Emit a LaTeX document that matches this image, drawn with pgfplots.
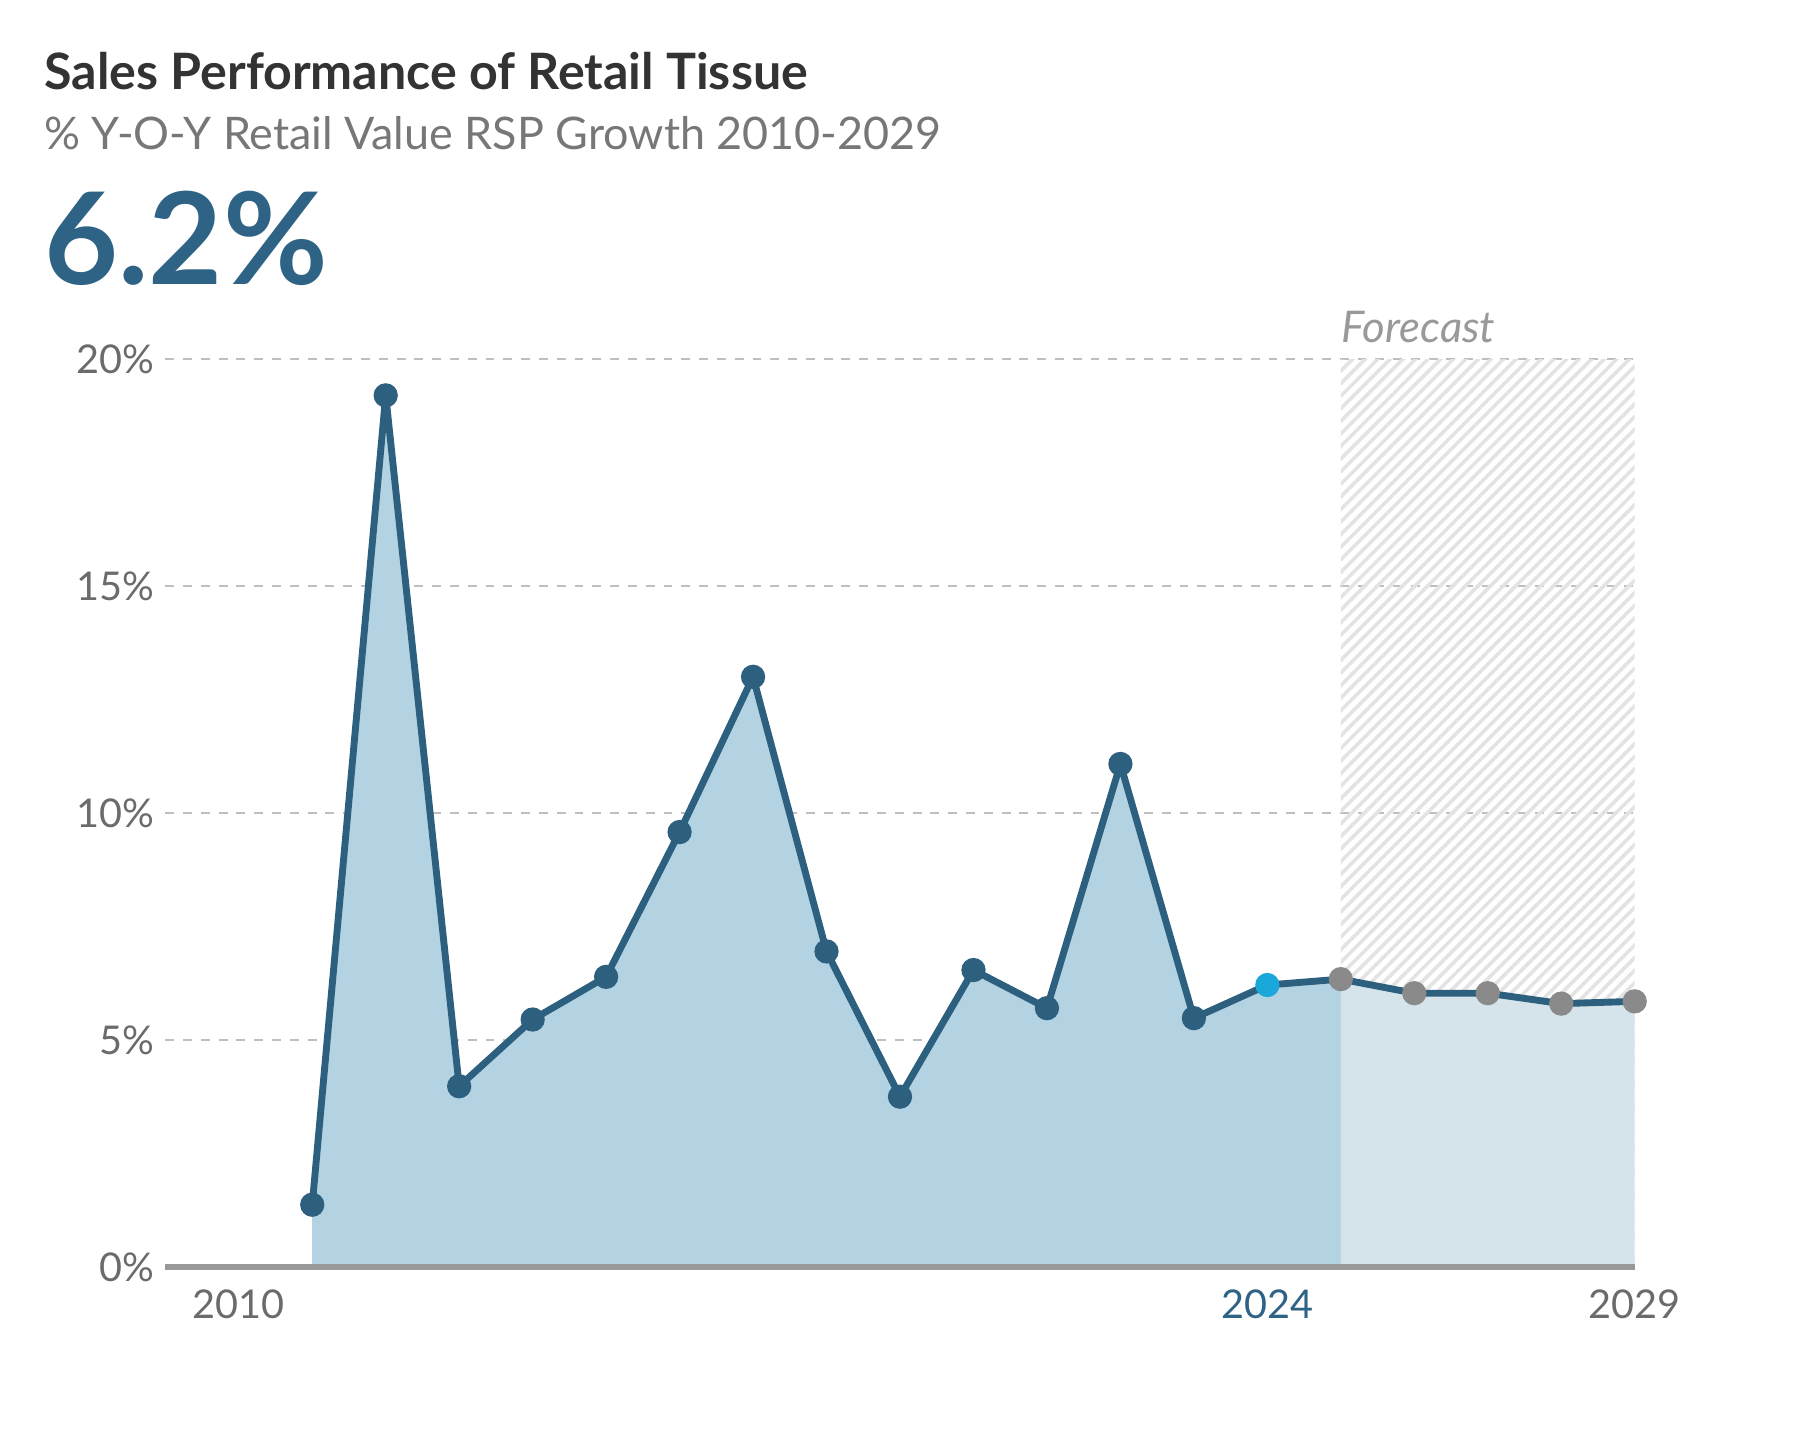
\documentclass[border=0pt]{standalone}
\usepackage{pgfplots}
\pgfplotsset{compat=1.18}
\usepackage{fontspec}
\setmainfont{Lato}
\usetikzlibrary{patterns.meta}
\definecolor{dline}{HTML}{2D5F7E}
\definecolor{bignum}{HTML}{2E6385}
\definecolor{fillA}{HTML}{B3D3E3}
\definecolor{fillB}{HTML}{D5E4EB}
\definecolor{gmark}{HTML}{8A8A8A}
\definecolor{cmark}{HTML}{1AA7D9}
\definecolor{tickg}{HTML}{6B6B6B}
\definecolor{titleg}{HTML}{333333}
\definecolor{subg}{HTML}{777777}
\begin{document}
\begin{tikzpicture}
\begin{axis}[
  scale only axis,
  width=12.77cm, height=7.89cm,
  xmin=2009, xmax=2029, ymin=0, ymax=20,
  clip=false,
  axis line style={draw=none},
  major tick length=0pt,
  ytick={0,5,10,15,20},
  yticklabels={0\%,5\%,10\%,15\%,20\%},
  xtick={2010,2024,2029},
  xticklabels={2010,\textcolor{bignum}{2024},2029},
  ymajorgrids,
  grid style={draw=black!25, dash pattern=on 2.2pt off 2.2pt, line width=0.6pt},
  tick label style={font=\fontsize{9.8}{11}\selectfont, text=tickg},
  yticklabel style={xshift=0.8pt},
  xticklabel style={yshift=-2pt},
  /pgf/number format/assume math mode=true,
]
% forecast hatch
\fill[pattern={Lines[angle=45,distance=2.2pt,line width=0.9pt]}, pattern color=black!11]
  (axis cs:2025,0) rectangle (axis cs:2029,20);
% fills
\addplot[fill=fillA, draw=none] coordinates {
(2011,1.37) (2012,19.2) (2013,3.98) (2014,5.45) (2015,6.39) (2016,9.58) (2017,13.0)
(2018,6.95) (2019,3.75) (2020,6.54) (2021,5.70) (2022,11.08) (2023,5.48) (2024,6.21) (2025,6.34)
} \closedcycle;
\addplot[fill=fillB, draw=none] coordinates {
(2025,6.34) (2026,6.03) (2027,6.03) (2028,5.80) (2029,5.85)
} \closedcycle;
% zero line
\draw[black!40, line width=1.3pt] (axis cs:2009,0) -- (axis cs:2029,0);
% line
\addplot[dline, line width=1.7pt, mark=none] coordinates {
(2011,1.37) (2012,19.2) (2013,3.98) (2014,5.45) (2015,6.39) (2016,9.58) (2017,13.0)
(2018,6.95) (2019,3.75) (2020,6.54) (2021,5.70) (2022,11.08) (2023,5.48) (2024,6.21)
(2025,6.34) (2026,6.03) (2027,6.03) (2028,5.80) (2029,5.85)
};
\addplot[only marks, mark=*, mark size=2.8pt, mark options={fill=dline, draw=dline}] coordinates {
(2011,1.37) (2012,19.2) (2013,3.98) (2014,5.45) (2015,6.39) (2016,9.58) (2017,13.0)
(2018,6.95) (2019,3.75) (2020,6.54) (2021,5.70) (2022,11.08) (2023,5.48)
};
\addplot[only marks, mark=*, mark size=2.8pt, mark options={fill=cmark, draw=cmark}] coordinates {
(2024,6.21)
};
\addplot[only marks, mark=*, mark size=2.8pt, mark options={fill=gmark, draw=gmark}] coordinates {
(2025,6.34) (2026,6.03) (2027,6.03) (2028,5.80) (2029,5.85)
};
% texts
\node[anchor=base west, inner sep=0pt, text=titleg, font=\fontsize{12.4}{14}\selectfont\bfseries]
  at (axis cs:2007.344,25.93) {Sales Performance of Retail Tissue};
\node[anchor=base west, inner sep=0pt, text=subg, font=\fontsize{11.1}{13}\selectfont]
  at (axis cs:2007.344,24.61) {\% Y-O-Y Retail Value RSP Growth 2010-2029};
\node[anchor=base west, inner sep=0pt, text=bignum, font=\fontsize{31.6}{36}\selectfont\bfseries]
  at (axis cs:2007.344,21.65) {6.2\%};
\node[anchor=base west, inner sep=0pt, text=black!40, font=\fontsize{10.8}{12}\selectfont\itshape]
  at (axis cs:2025,20.355) {Forecast};
% bounding box
\path (axis cs:2006.75,-3.70) rectangle (axis cs:2031.25,27.91);
\end{axis}
\end{tikzpicture}
\end{document}
